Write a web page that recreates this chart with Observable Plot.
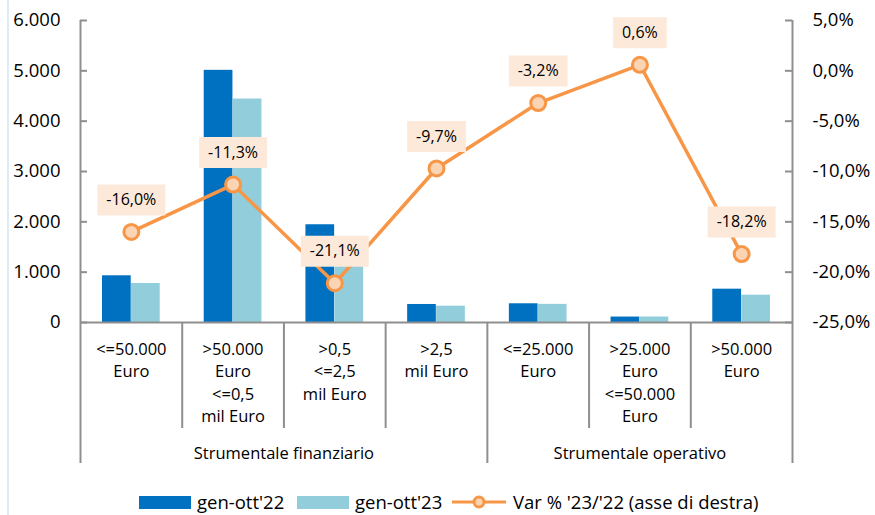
<!DOCTYPE html>
<html>
<head>
<meta charset="utf-8">
<script src="https://cdn.jsdelivr.net/npm/d3@7"></script>
<script src="https://cdn.jsdelivr.net/npm/@observablehq/plot@0.6"></script>
<style>
  html, body { margin: 0; padding: 0; background: #fff; }
  #wrap { position: relative; width: 875px; height: 515px; overflow: hidden; font-family: "Open Sans", sans-serif; }
  #edge { position: absolute; left: 7px; top: 0; width: 2px; height: 515px; background: #deecf4; }
  #chart { position: absolute; left: 0; top: 0; }
  .lg { position: absolute; top: 490px; height: 24px; display: flex; align-items: center; font-size: 18.5px; line-height: 22px; color: #000; white-space: nowrap; }
  .lg svg { display: block; margin-right: 6px; }
</style>
</head>
<body>
<div id="wrap">
  <div id="edge"></div>
  <div id="chart"></div>
  <div class="lg" style="left:139px"><svg width="52" height="13"><rect width="52" height="13" fill="#0070c0"/></svg><span id="l1"></span></div>
  <div class="lg" style="left:297px"><svg width="52" height="13"><rect width="52" height="13" fill="#92cddc"/></svg><span id="l2"></span></div>
  <div class="lg" style="left:451px"><svg width="56" height="16"><line x1="1" x2="55" y1="8" y2="8" stroke="#f79646" stroke-width="3"/><circle cx="28" cy="8" r="5" fill="#fbd4b4" stroke="#f79646" stroke-width="3"/></svg><span id="l3"></span></div>
</div>
<script>
// ---- data ----
const categories = [
  "<=50.000\nEuro",
  ">50.000\nEuro\n<=0,5\nmil Euro",
  ">0,5\n<=2,5\nmil Euro",
  ">2,5\nmil Euro",
  "<=25.000\nEuro",
  ">25.000\nEuro\n<=50.000\nEuro",
  ">50.000\nEuro"
];
const groups = ["Strumentale finanziario", "Strumentale operativo"];
const groupSizes = [4, 3];
const values22 = [928, 5010, 1942, 358, 372, 108, 662];
const values23 = [775, 4440, 1532, 324, 360, 109, 543];
const varPct = [-16.0, -11.3, -21.1, -9.7, -3.2, 0.6, -18.2];
const leftTicks = [0, 1000, 2000, 3000, 4000, 5000, 6000];
const rightTicks = [-25, -20, -15, -10, -5, 0, 5];
const seriesNames = ["gen-ott'22", "gen-ott'23", "Var % '23/'22 (asse di destra)"];

document.getElementById("l1").textContent = seriesNames[0];
document.getElementById("l2").textContent = seriesNames[1];
document.getElementById("l3").textContent = seriesNames[2];

// ---- helpers ----
const loc = d3.formatLocale({decimal: ",", thousands: ".", grouping: [3], currency: ["", "€"], minus: "-"});
const fmtInt = loc.format(",");
const fmtPct = loc.format(".1f");
// right axis (pct) mapped onto left axis units
const leftMax = 6000, pMin = -25, pMax = 5;
const toLeft = p => (p - pMin) / (pMax - pMin) * leftMax;
const fromLeft = v => v / leftMax * (pMax - pMin) + pMin;

const canvas = document.createElement("canvas");
const ctx = canvas.getContext("2d");
ctx.font = "16px 'Open Sans'";

const data = categories.map((c, i) => ({
  i, label: c, v22: values22[i], v23: values23[i], pct: varPct[i],
  pctLabel: fmtPct(varPct[i]) + "%"
}));
data.forEach(d => { d.half = (ctx.measureText(d.pctLabel).width + 18) / 2; });

// group boundaries
const bounds = [0];
groupSizes.forEach(s => bounds.push(bounds[bounds.length - 1] + s));
const innerDividers = d3.range(1, categories.length).filter(k => !bounds.includes(k));
const groupData = groups.map((g, k) => ({name: g, mid: (bounds[k] + bounds[k + 1]) / 2}));

const boxSymbol = {
  draw(context, size) {
    const r = Math.sqrt(size / Math.PI);
    context.rect(-r, -15.5, 2 * r, 31);
  }
};

const gray = "#8f8f8f";

const chart = Plot.plot({
  width: 875,
  height: 475,
  marginLeft: 80,
  marginRight: 83,
  marginTop: 20,
  marginBottom: 153,
  style: {fontFamily: "'Open Sans', sans-serif", fontSize: "16px", color: "#000", background: "transparent", overflow: "visible"},
  x: {type: "linear", domain: [0, categories.length], axis: null},
  y: {domain: [0, leftMax]},
  r: {type: "identity"},
  marks: [
    // bars
    Plot.rectY(data, {x1: d => d.i, x2: d => d.i + 1, y: "v22", fill: "#0070c0", insetLeft: 22, insetRight: 51}),
    Plot.rectY(data, {x1: d => d.i, x2: d => d.i + 1, y: "v23", fill: "#92cddc", insetLeft: 51, insetRight: 22}),
    // axes lines
    Plot.ruleX([0, categories.length], {stroke: gray, strokeWidth: 2}),
    Plot.ruleY([0], {stroke: gray, strokeWidth: 2}),
    // inward ticks
    Plot.ruleY(leftTicks, {y: d => d, x1: 0, x2: 0, insetRight: -7, stroke: gray, strokeWidth: 2}),
    Plot.ruleY(rightTicks.map(toLeft), {y: d => d, x1: categories.length, x2: categories.length, insetLeft: -7, stroke: gray, strokeWidth: 2}),
    // category dividers below the axis
    Plot.ruleX(innerDividers, {x: d => d, y1: 0, y2: 0, insetBottom: -106, stroke: gray, strokeWidth: 2}),
    Plot.ruleX(bounds, {x: d => d, y1: 0, y2: 0, insetBottom: -141, stroke: gray, strokeWidth: 2}),
    // tick labels
    Plot.axisY(leftTicks, {anchor: "left", tickSize: 0, tickPadding: 20, tickFormat: d => fmtInt(d), fontSize: 18.5}),
    Plot.axisY(rightTicks.map(toLeft), {anchor: "right", tickSize: 0, tickPadding: 20, tickFormat: d => fmtPct(fromLeft(d)) + "%", fontSize: 18.5}),
    // category labels
    Plot.text(data, {x: d => d.i + 0.5, y: () => 0, text: "label", lineAnchor: "top", dy: 16, lineHeight: 1.37, fontSize: 16.5}),
    Plot.text(groupData, {x: "mid", y: () => 0, text: "name", lineAnchor: "middle", dy: 131, fontSize: 16.5}),
    // line
    Plot.line(data, {x: d => d.i + 0.5, y: d => toLeft(d.pct), stroke: "#f79646", strokeWidth: 3.5}),
    Plot.dot(data, {x: d => d.i + 0.5, y: d => toLeft(d.pct), r: 7.5, fill: "#fbd4b4", stroke: "#f79646", strokeWidth: 3}),
    // data label boxes
    Plot.dot(data, {x: d => d.i + 0.5, y: d => toLeft(d.pct), r: "half", symbol: boxSymbol, fill: "#fde9d9", stroke: "none", dy: -32}),
    Plot.text(data, {x: d => d.i + 0.5, y: d => toLeft(d.pct), text: "pctLabel", dy: -32, fontSize: 16, lineAnchor: "middle"})
  ]
});
document.getElementById("chart").appendChild(chart);
</script>
</body>
</html>
